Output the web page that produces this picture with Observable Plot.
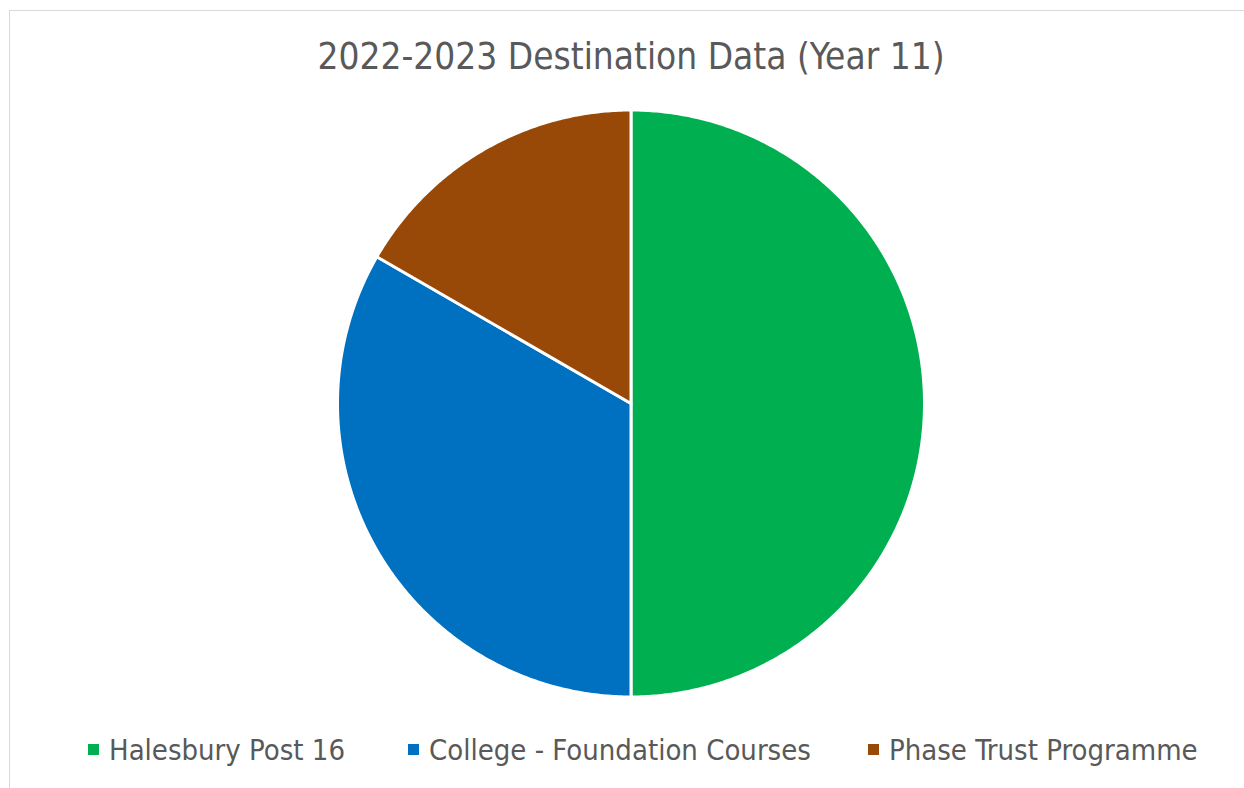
<!DOCTYPE html>
<html>
<head>
<meta charset="utf-8">
<script src="https://cdn.jsdelivr.net/npm/d3@7"></script>
<script src="https://cdn.jsdelivr.net/npm/@observablehq/plot@0.6"></script>
<style>
  html, body { margin: 0; padding: 0; background: #fff; overflow: hidden; }
  #wrap { position: relative; width: 1244px; height: 788px; overflow: hidden; font-family: "DejaVu Sans Condensed", "DejaVu Sans", sans-serif; color: #595959; }
  #frame { position: absolute; left: 9px; top: 10px; width: 1300px; height: 850px; border: 1.5px solid #d9d9d9; box-sizing: border-box; }
  #title { position: absolute; left: 0; top: 39px; width: 1262px; text-align: center; font-size: 36.7px; line-height: 36.7px; white-space: nowrap; }
  #chart { position: absolute; left: 0; top: 100px; }
  #legend { position: absolute; left: 0; top: 735.5px; width: 1244px; height: 40px; font-size: 29px; line-height: 29px; }
  .item { position: absolute; top: 0; white-space: nowrap; }
  .sw { position: absolute; top: 8px; left: 0; width: 11px; height: 11px; }
  .lab { position: absolute; top: 0; left: 21px; }
</style>
</head>
<body>
<div id="wrap">
  <div id="frame"></div>
  <div id="title"></div>
  <div id="chart"></div>
  <div id="legend"></div>
</div>
<script>
const titleText = "2022-2023 Destination Data (Year 11)";
const categories = ["Halesbury Post 16", "College - Foundation Courses", "Phase Trust Programme"];
const values = [3, 2, 1];
const colors = ["#00B050", "#0070C0", "#984807"];
const legendLeft = [88, 408, 868];

document.getElementById("title").textContent = titleText;

const arcs = d3.pie().sort(null)(values);
const slices = arcs.map((a, i) => {
  const pts = [{name: categories[i], x: 0, y: 0}];
  const n = Math.max(2, Math.ceil((a.endAngle - a.startAngle) / (Math.PI / 360)));
  for (let k = 0; k <= n; k++) {
    const t = a.startAngle + (a.endAngle - a.startAngle) * k / n;
    pts.push({name: categories[i], x: Math.sin(t), y: Math.cos(t)});
  }
  pts.push({name: categories[i], x: 0, y: 0});
  return pts;
});

const svgH = 610;
const chart = Plot.plot({
  width: 1244,
  height: svgH,
  marginLeft: 337,
  marginRight: 320,
  marginTop: 9.5,
  marginBottom: 13.5,
  x: {domain: [-1, 1], axis: null},
  y: {domain: [-1, 1], axis: null},
  style: {background: "transparent"},
  marks: slices.map((pts, i) =>
    Plot.line(pts, {x: "x", y: "y", fill: colors[i], stroke: "white", strokeWidth: 3, strokeLinejoin: "round", curve: "linear"})
  )
});
document.getElementById("chart").appendChild(chart);

const legend = document.getElementById("legend");
categories.forEach((c, i) => {
  const it = document.createElement("div");
  it.className = "item";
  it.style.left = legendLeft[i] + "px";
  const sw = document.createElement("div");
  sw.className = "sw";
  sw.style.background = colors[i];
  const lab = document.createElement("div");
  lab.className = "lab";
  lab.textContent = c;
  it.appendChild(sw);
  it.appendChild(lab);
  legend.appendChild(it);
});
</script>
</body>
</html>
